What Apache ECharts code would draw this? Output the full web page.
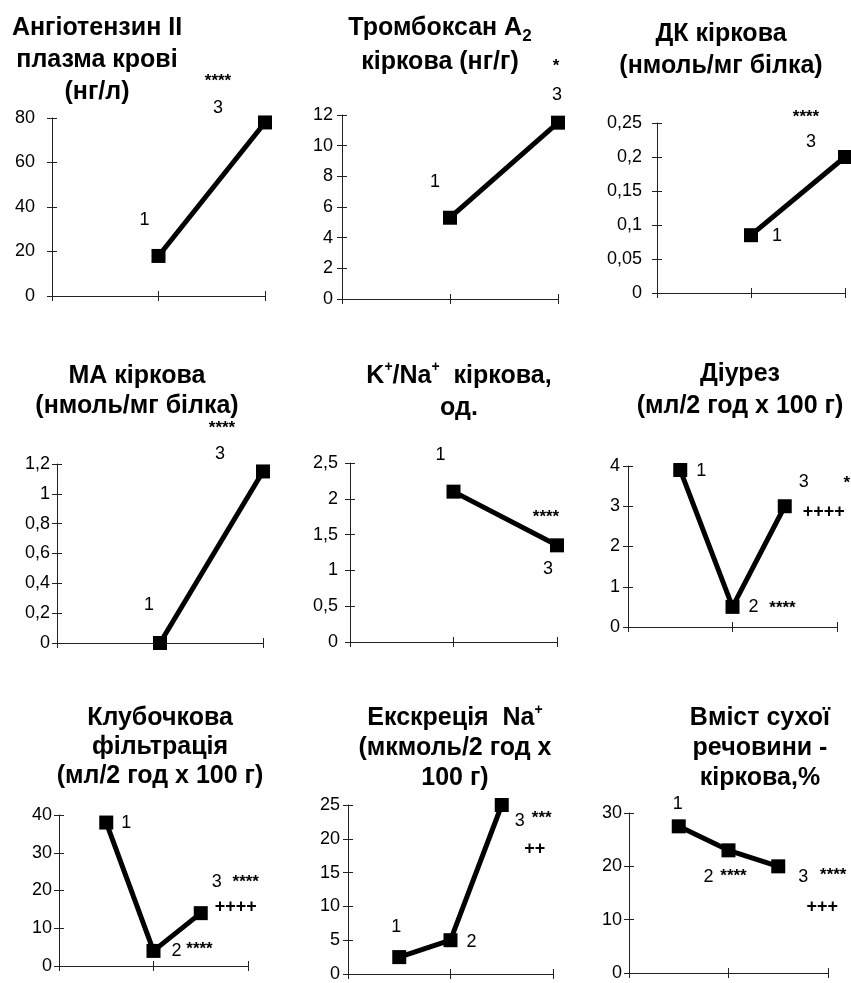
<!DOCTYPE html>
<html><head><meta charset="utf-8">
<script src="https://cdn.jsdelivr.net/npm/echarts@6.0.0/dist/echarts.min.js"></script>
<style>html,body{margin:0;padding:0;background:#fff}#c{width:851px;height:983px}</style>
</head><body><div id="c"></div>
<script>
// ---------------- DATA ----------------
const groupX2 = [1, 2];            // groups 1 and 3
const groupX3 = [0.5, 1, 1.5];     // groups 1, 2 and 3
const groups2 = ['1', '3'];
const groups3 = ['1', '2', '3'];

const titleTexts = [
  'Ангіотензин II\nплазма крові\n(нг/л)',
  'Тромбоксан А{s|2}\nкіркова (нг/г)',
  'ДК кіркова\n(нмоль/мг білка)',
  'МА кіркова\n(нмоль/мг білка)',
  'K{sup|+}/Na{sup|+}  кіркова,\nод.',
  'Діурез\n(мл/2 год х 100 г)',
  'Клубочкова\nфільтрація\n(мл/2 год х 100 г)',
  'Екскреція  Na{sup|+}\n(мкмоль/2 год х\n100 г)',
  'Вміст сухої\nречовини -\nкіркова,%'
];

const angiotensinValues = [18, 78];
const thromboxaneValues = [5.3, 11.5];
const dkValues = [0.085, 0.2];
const maValues = [0, 1.15];
const kNaValues = [2.1, 1.35];
const diuresisValues = [3.9, 0.5, 3];
const filtrationValues = [38, 4, 14];
const naExcretionValues = [2.5, 5, 25];
const dryMatterValues = [27.5, 23, 20];

const angiotensinStars = ['', '****'];
const thromboxaneStars = ['', '*'];
const dkStars = ['', '****'];
const maStars = ['', '****'];
const kNaStars = ['', '****'];
const diuresisStars = ['', '****', '*'];
const filtrationStars = ['', '****', '****'];
const naExcretionStars = ['', '', '***'];
const dryMatterStars = ['', '****', '****'];

const diuresisPlus = ['', '', '++++'];
const filtrationPlus = ['', '', '++++'];
const naExcretionPlus = ['', '', '++'];
const dryMatterPlus = ['', '', '+++'];

const yMaxes = [80, 12, 0.25, 1.2, 2.5, 4, 40, 25, 30];
const ySteps = [20, 2, 0.05, 0.2, 0.5, 1, 10, 5, 10];

// ---------------- LAYOUT ----------------
const FONT = '"Liberation Sans", Arial, sans-serif';
const panels = [
  {xs: groupX2, v: angiotensinValues, g: groups2, s: angiotensinStars, p: null,
   grid: [52, 118, 213, 178], tx: 97, ty: 28, lh: 32, lm: 17,
   go: [[-14, -36], [-47, -14]], so: [null, [-47, -45]], po: null},
  {xs: groupX2, v: thromboxaneValues, g: groups2, s: thromboxaneStars, p: null,
   grid: [342, 115, 216, 184], tx: 440, ty: 28, lh: 34, lm: 9,
   go: [[-15, -36], [-1, -28]], so: [null, [-2, -60]], po: null},
  {xs: groupX2, v: dkValues, g: groups2, s: dkStars, p: null,
   grid: [657, 123, 188, 170], tx: 721, ty: 34, lh: 32, lm: 15,
   go: [[26, 1], [-34, -15]], so: [null, [-39, -44]], po: null},
  {xs: groupX2, v: maValues, g: groups2, s: maStars, p: null,
   grid: [57, 464, 206, 179], tx: 137, ty: 376, lh: 30, lm: 7,
   go: [[-11, -38], [-43, -17]], so: [null, [-41, -47]], po: null},
  {xs: groupX2, v: kNaValues, g: groups2, s: kNaStars, p: null,
   grid: [350, 463, 207, 179], tx: 459, ty: 376, lh: 32, lm: 12,
   go: [[-13, -37], [-9, 24]], so: [null, [-11, -32]], po: null},
  {xs: groupX3, v: diuresisValues, g: groups3, s: diuresisStars, p: diuresisPlus,
   grid: [628, 466, 209, 161], tx: 740, ty: 374, lh: 32, lm: 8,
   go: [[21, 1], [21, 0], [19, -24]], so: [null, [50, -3], [62, -27]], po: [null, null, [39, 6]]},
  {xs: groupX3, v: filtrationValues, g: groups3, s: filtrationStars, p: filtrationPlus,
   grid: [59, 815, 189, 151], tx: 160, ty: 718, lh: 29, lm: 7,
   go: [[20, 0], [23, 0], [16, -31]], so: [null, [46, -6], [45, -35]], po: [null, null, [35, -6]]},
  {xs: groupX3, v: naExcretionValues, g: groups3, s: naExcretionStars, p: naExcretionPlus,
   grid: [348, 805, 205, 169], tx: 455, ty: 718, lh: 30, lm: 8,
   go: [[-3, -30], [21, 2], [18, 16]], so: [null, null, [40, 9]], po: [null, null, [33, 44]]},
  {xs: groupX3, v: dryMatterValues, g: groups3, s: dryMatterStars, p: dryMatterPlus,
   grid: [629, 813, 199, 160], tx: 760, ty: 718, lh: 30, lm: 7,
   go: [[-1, -22], [-20, 27], [25, 11]], so: [null, [5, 22], [55, 5]], po: [null, null, [44, 41]]}
];

const AX = '#222';
const option = {
  backgroundColor: '#fff',
  animation: false,
  title: [], grid: [], xAxis: [], yAxis: [], series: []
};

const noteLabel = (text, offset, size, weight) => ({
  show: true, formatter: text, offset: offset, position: 'inside',
  fontFamily: FONT, fontSize: size, fontWeight: weight, color: '#000',
  textBorderWidth: 0, textBorderColor: 'transparent', opacity: 1
});

panels.forEach((P, i) => {
  option.title.push({
    text: titleTexts[i], left: P.tx, top: P.ty - P.lh / 2, textAlign: 'center',
    padding: 0,
    textStyle: {
      fontFamily: FONT, fontSize: 25, fontWeight: 'bold', color: '#000', lineHeight: P.lh,
      rich: {
        sup: {fontFamily: FONT, fontSize: 14, fontWeight: 'bold', color: '#000', verticalAlign: 'top', lineHeight: P.lh - 8},
        s: {fontFamily: FONT, fontSize: 17, fontWeight: 'bold', color: '#000', verticalAlign: 'bottom', lineHeight: P.lh - 4}
      }
    }
  });
  option.grid.push({left: P.grid[0], top: P.grid[1], width: P.grid[2], height: P.grid[3], containLabel: false});
  const commonX = {gridIndex: i, type: 'value', min: 0, max: 2, interval: 1, position: 'bottom',
    axisLabel: {show: false}, splitLine: {show: false}};
  option.xAxis.push(Object.assign({}, commonX, {
    axisLine: {show: true, onZero: false, lineStyle: {color: AX, width: 1}},
    axisTick: {show: true, length: 5, lineStyle: {color: AX, width: 1}}}));
  option.xAxis.push(Object.assign({}, commonX, {
    axisLine: {show: false, onZero: false},
    axisTick: {show: true, inside: true, length: 5, lineStyle: {color: AX, width: 1}}}));
  const commonY = {gridIndex: i, type: 'value', min: 0, max: yMaxes[i], interval: ySteps[i], position: 'left',
    splitLine: {show: false}};
  option.yAxis.push(Object.assign({}, commonY, {
    axisLine: {show: true, lineStyle: {color: AX, width: 1}},
    axisTick: {show: true, length: 5, lineStyle: {color: AX, width: 1}},
    axisLabel: {show: true, margin: P.lm, fontFamily: FONT, fontSize: 18, color: '#000',
      formatter: v => String(+v.toFixed(4)).replace('.', ',')}}));
  option.yAxis.push(Object.assign({}, commonY, {
    axisLine: {show: false},
    axisTick: {show: true, inside: true, length: 5, lineStyle: {color: AX, width: 1}},
    axisLabel: {show: false}}));

  const pts = P.xs.map((x, k) => [x, P.v[k]]);
  option.series.push({
    type: 'line', xAxisIndex: 2 * i, yAxisIndex: 2 * i, data: pts, clip: false,
    symbol: 'rect', symbolSize: 14, showAllSymbol: true,
    lineStyle: {color: '#000', width: 5}, itemStyle: {color: '#000', opacity: 1},
    label: {show: false}, z: 3
  });

  const notes = [];
  pts.forEach((pt, k) => {
    notes.push({value: pt, label: noteLabel(P.g[k], P.go[k], 18, 'normal')});
    if (P.s[k]) notes.push({value: pt, label: noteLabel(P.s[k], [P.so[k][0], P.so[k][1] + 4], 17, 'bold')});
    if (P.p && P.p[k]) notes.push({value: pt, label: noteLabel(P.p[k], P.po[k], 18, 'bold')});
  });
  option.series.push({
    type: 'scatter', xAxisIndex: 2 * i, yAxisIndex: 2 * i, data: notes, clip: false,
    symbolSize: 0, silent: true, z: 4, itemStyle: {color: '#000', opacity: 1},
    label: {show: true, position: 'inside'}
  });
});

const chart = echarts.init(document.getElementById('c'), null, {renderer: 'canvas'});
chart.setOption(option);
</script></body></html>
